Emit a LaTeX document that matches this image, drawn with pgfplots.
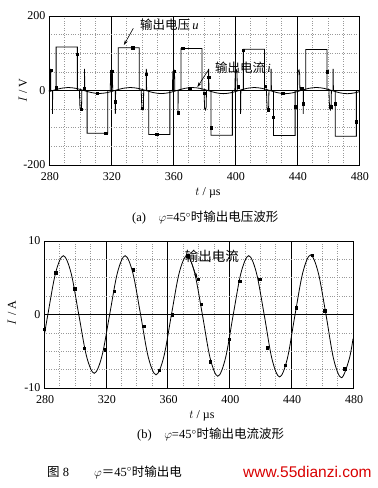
\documentclass[border=0pt]{standalone}
\usepackage{pgfplots}
\pgfplotsset{compat=1.18}
\usepackage{pgfplotstable}
\usepackage{fontspec}
\setmainfont{Liberation Serif}
\newfontfamily\cjk{Noto Sans CJK SC}
\newfontfamily\sansw{Liberation Sans}
\usetikzlibrary{arrows.meta}

\pgfplotstableread{
t i
280 -3.06
282.5 0
287.5 5.66
292.5 8
297.5 5.66
302.5 0
307.5 -5.66
312.5 -8
317.5 -5.66
322.5 0
327.5 5.66
332.5 8
337.5 5.66
342.5 0
347.5 -5.8
352.5 -8.2
357.5 -5.8
362.5 0
367.5 5.66
372.5 8
377.5 5.66
382.5 0
387.5 -5.9
392.5 -8.4
397.5 -5.9
402.5 0
407.5 5.66
412.5 8
417.5 5.66
422.5 0
427.5 -6
432.5 -8.5
437.5 -6
442.5 0
447.5 5.7
452.5 8.1
457.5 5.7
462.5 0
467.5 -6.1
472.5 -8.6
477.5 -6.1
480 -3.3
}\curr

\pgfplotstableread{
t i
280 -2
287.6 5.7
299.8 3.5
306.1 -4.6
319.5 -4.8
325.5 3.2
337.6 6.1
344.5 -1.6
354.6 -7.6
362.8 0
373 8
379.7 4.8
381.8 1.4
387.7 -6.4
399.7 -3.4
406.6 4.5
419.6 4.8
424.5 -4.5
436.2 -6.9
443.3 0.9
453.7 8.1
461.7 0.5
474.6 -7.4
}\currmarks

\pgfplotstableread{
t v
280 0
281 0
281 58
281.2 0
282.2 0
282.2 -63
282.4 0
284.6 0
284.6 117
298.3 117
298.3 0
299.6 0
300 -48
300.6 -52
301 -44
301.2 0
302.9 0
302.9 58
303.1 0
304.6 0
304.6 -115
317.9 -115
317.9 0
319.5 0
319.8 50
320.5 55
320.9 45
321.1 0
322.8 0
322.8 -63
323 0
324.7 0
324.7 115
338.2 115
338.2 0
339.5 0
339.9 -48
340.5 -52
340.9 -44
341.1 0
342.8 0
342.8 58
343 0
344.4 0
344.4 -118
358 -118
358 0
359.6 0
359.9 50
360.6 55
361 45
361.2 0
363.2 0
363.2 -63
363.4 0
365.1 0
365.1 113
378.7 113
378.7 0
380 0
380.4 -48
381 -52
381.4 -44
381.6 0
383 0
383 58
383.2 0
384.5 0
384.5 -120
398.3 -120
398.3 0
399.9 0
400.2 50
400.9 55
401.3 45
401.5 0
403.6 0
403.6 -63
403.8 0
405.4 0
405.4 111
419 111
419 0
420.3 0
420.7 -48
421.3 -52
421.7 -44
421.9 0
423.3 0
423.3 58
423.5 0
424.8 0
424.8 -121
438.8 -121
438.8 0
440.3 0
440.6 50
441.3 55
441.7 45
441.9 0
444 0
444 -63
444.2 0
445.7 0
445.7 110
459.3 110
459.3 0
460.6 0
461 -48
461.6 -52
462 -44
462.2 0
463.3 0
463.3 58
463.5 0
464.7 0
464.7 -123
478.3 -123
478.3 0
480 0
}\volt

\pgfplotstableread{
t v
281 55
284.6 7
298.3 97
300.6 -50
302.9 5
311.2 -8
316.6 -115
320.5 52
322.8 -30
333.9 115
340.1 -48
342.8 44
349.4 -118
360.6 52
363.2 -60
366.2 113
370.9 6
380 -8
383 35
384.5 -100
402.2 10
405.4 108
419.4 12
421.3 -52
424.8 -71
430.8 -7
438.8 -44
443.1 6
444 -35
459.3 50
462 -44
464.7 -35
478.3 -84
}\voltmarks

\pgfplotsset{
  myaxis/.style={
    scale only axis,
    axis line style={black, line width=0.8pt},
    grid=both,
    major grid style={black, line width=0.6pt},
    minor grid style={gray!80, dotted, line width=0.6pt},
    minor x tick num=3, minor y tick num=3,
    xmin=280, xmax=480, xtick={280,320,...,480},
    tick style={black, line width=0.6pt},
    major tick length=3pt, minor tick length=0pt,
    tick label style={font=\fontsize{12}{12}\selectfont},
    xticklabel style={yshift=-4pt, xshift=1pt},
    /pgf/number format/assume math mode=true,
    /pgf/number format/1000 sep={},
    label style={font=\fontsize{12}{12}\selectfont},
  }
}

\begin{document}
\begin{tikzpicture}
\useasboundingbox (0,0) rectangle (378pt,-488pt);

% ---- top axis (a)
\begin{axis}[myaxis,
  at={(49pt,-16pt)}, anchor=north west,
  width=310pt, height=149pt,
  ymin=-200, ymax=200, ytick={-200,0,200},
  xlabel={$t$ / \textmu s},
  ylabel={$I$ / V},
  xlabel style={at={(axis description cs:0.513,-0.19)}, anchor=center},
  ylabel style={at={(axis description cs:-0.084,0.5)}, anchor=center},
]
\addplot[black, line width=0.8pt, smooth, tension=0.55] table[x=t,y=i] {\curr};
\addplot[black, line width=0.8pt] table[x=t,y=v] {\volt};
\addplot[black, only marks, mark=square*, mark size=1.2pt] table[x=t,y=v] {\voltmarks};
\node[anchor=west, font=\fontsize{12.5}{12.5}\selectfont, inner sep=0pt] at (axis cs:338.7,176) {{\cjk 输出电压}\,\textit{u}};
\draw[-{Stealth[length=5pt,width=3pt]}, line width=0.6pt] (axis cs:334.4,167) -- (axis cs:328.3,122);
\node[anchor=west, font=\fontsize{12.5}{12.5}\selectfont, inner sep=0pt] at (axis cs:387.1,60) {{\cjk 输出电流}\,\textit{i}};
\draw[-{Stealth[length=5pt,width=3pt]}, line width=0.6pt] (axis cs:382.8,55) -- (axis cs:375.7,9);
\end{axis}

\node[anchor=west, font=\fontsize{12.5}{12.5}\selectfont, inner sep=0pt] at (132pt,-218pt) {(a)\quad$\varphi$=45$^\circ${\cjk 时输出电压波形}};

% ---- bottom axis (b)
\begin{axis}[myaxis,
  at={(44pt,-241pt)}, anchor=north west,
  width=309pt, height=147pt,
  ymin=-10, ymax=10, ytick={-10,0,10},
  xlabel={$t$ / \textmu s},
  ylabel={$I$ / A},
  xlabel style={at={(axis description cs:0.511,-0.19)}, anchor=center},
  ylabel style={at={(axis description cs:-0.104,0.51)}, anchor=center},
]
\addplot[black, line width=0.8pt, smooth, tension=0.55] table[x=t,y=i] {\curr};
\addplot[black, only marks, mark=square*, mark size=1.2pt] table[x=t,y=i] {\currmarks};
\node[anchor=west, font=\fontsize{13.5}{13.5}\selectfont, inner sep=0pt] at (axis cs:371.1,7.9) {\cjk 输出电流};
\draw[-{Stealth[length=5pt,width=3pt]}, line width=0.6pt] (axis cs:375.4,7.1) -- (axis cs:379.1,4.9);
\end{axis}

\node[anchor=west, font=\fontsize{12.5}{12.5}\selectfont, inner sep=0pt] at (137pt,-435pt) {(b)\quad$\varphi$=45$^\circ${\cjk 时输出电流波形}};

\node[anchor=west, font=\fontsize{12.5}{12.5}\selectfont, inner sep=0pt] at (47pt,-472pt) {{\cjk 图}\ 8\qquad$\varphi${\cjk ＝}45$^\circ${\cjk 时输出电}};
\node[anchor=west, font=\sansw\fontsize{15.5}{15.5}\selectfont, text=red!85!black, inner sep=0pt] at (243pt,-472pt) {www.55dianzi.com};
\end{tikzpicture}
\end{document}
